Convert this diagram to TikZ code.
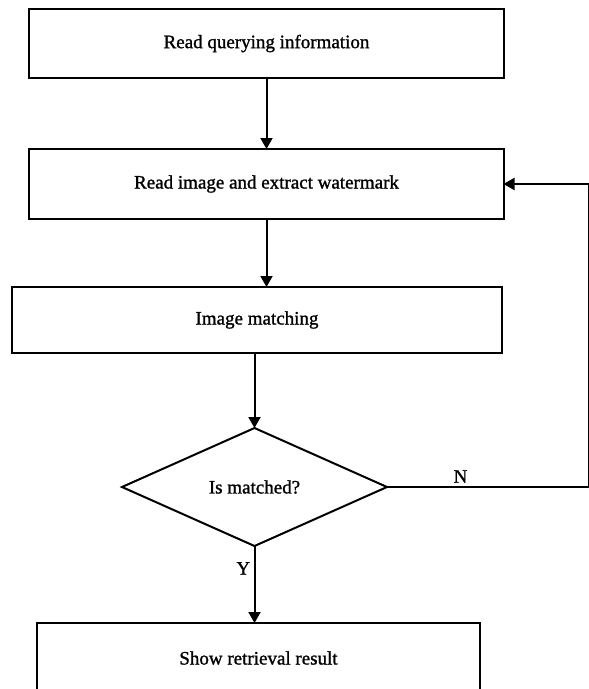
\documentclass[tikz,border=0pt]{standalone}
\usepackage{fontspec}
\setmainfont[FakeBold=1.2]{Liberation Serif}
\usetikzlibrary{shapes,arrows.meta,positioning}
\tikzstyle{decision} = [diamond, draw, line width=2bp, outer sep=0pt, minimum width=265bp, minimum height=118bp, inner sep=0pt, text badly centered]
\tikzstyle{block} = [rectangle, draw, line width=2bp, outer sep=0pt, text centered, minimum height=70bp]
\tikzstyle{line} = [draw, line width=2bp, -{Triangle[width=12bp,length=11bp]}]

\begin{document}
\begin{tikzpicture}[x=1bp, y=1bp, font=\fontsize{19bp}{23bp}\selectfont]
        \useasboundingbox (0,0) rectangle (589,-689);

        \node[block, minimum width=475bp, minimum height=69bp] (read) at (266.5,-43.5) {Read querying information};
        \node[block, minimum width=474bp, below=71bp of read]   (extr){Read image and extract watermark};
        \node[block, minimum width=489bp, minimum height=66bp, below=68bp of extr, xshift=-9.5bp] (match){Image matching};
        \node[decision, below=75bp of match, xshift=-2.5bp]   (stop){Is matched?};
        \node[block, minimum width=442bp, below=77bp of stop, xshift=4bp]   (result){Show retrieval result};

        % invisible point for the way back
        \coordinate[right=201.5bp of stop.east] (inv);

        \path[line] (read) --          (extr);
        \path[line] (extr) --          (extr |- match.north);
        \path[line] (stop |- match.south) --          (stop);
        \path[line] (stop) -- node[left, pos=0.29]{Y} (stop |- result.north);

        \path[-,draw, line width=2bp] (stop.east) -- node[above, pos=0.365]{N} (inv);
        \path[line] (inv) |- (extr.east);
\end{tikzpicture}
\end{document}
